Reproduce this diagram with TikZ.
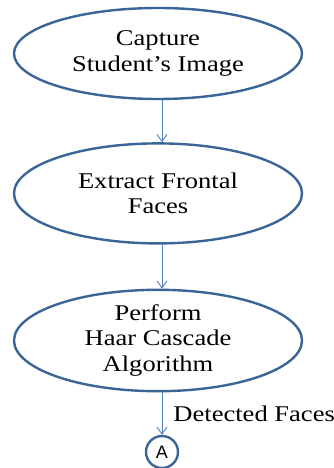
\documentclass[tikz,border=0pt]{standalone}
\usepackage{fontspec}
\setmainfont[FakeStretch=1.18]{Liberation Serif}
\newfontfamily\circfont{Liberation Sans}
\usepackage{xcolor}
\usetikzlibrary{shapes.geometric,positioning,arrows.meta}
\definecolor{edgeblue}{HTML}{3A6597}
\definecolor{arrowblue}{HTML}{4F81BD}

\begin{document}
\begin{tikzpicture}[every node/.style={align=center},
    stepoval/.style={ellipse, draw=edgeblue, line width=2.4pt, minimum width=288pt, inner sep=0pt,
        font=\fontsize{22.5}{25.5}\selectfont},
    flow/.style={draw=arrowblue, line width=0.9pt, -{Straight Barb[length=7pt,width=10pt]}},
    connector/.style={circle, draw=edgeblue, line width=2.4pt, minimum size=32pt, inner sep=0pt,
        font=\circfont\fontsize{18}{18}\selectfont}]
    \useasboundingbox (0,0) rectangle (334pt,-468pt);
    \node[stepoval, minimum height=91pt] (capture) at (158pt,-53.5pt) {Capture\\Student's Image};
    \node[stepoval, minimum height=100pt, below=42pt of capture] (extract) {Extract Frontal\\Faces};
    \node[stepoval, minimum height=94pt, below=44pt of extract] (haar) {Perform\\Haar Cascade\\Algorithm};
    \node[connector] (conA) at (162pt,-452pt) {A};
    \draw[flow] (capture.south -| conA) -- (extract.north -| conA);
    \draw[flow] (extract.south -| conA) -- (haar.north -| conA);
    \draw[flow] (haar.south -| conA) -- (conA.north)
        node[midway, right=11pt, inner sep=0pt, font=\fontsize{22.5}{25.5}\selectfont] {Detected Faces};
\end{tikzpicture}
\end{document}
